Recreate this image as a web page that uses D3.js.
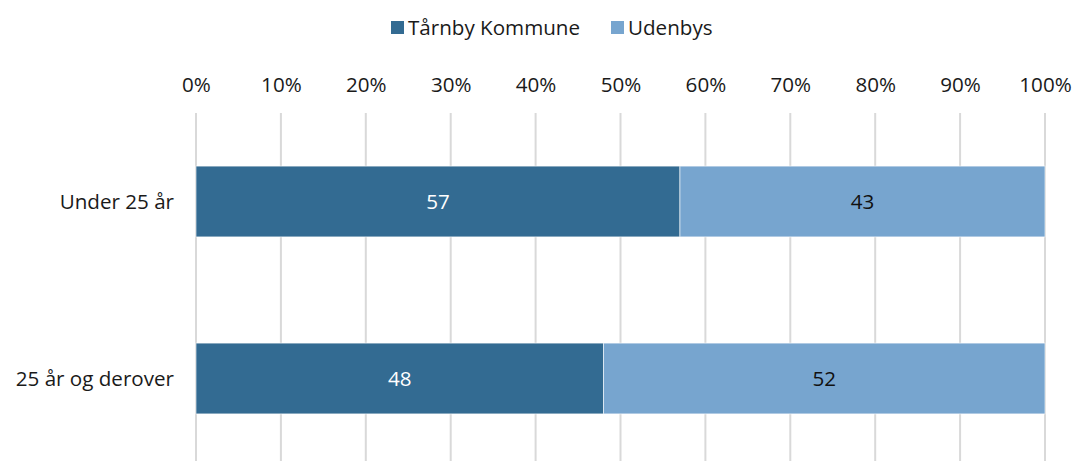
<!DOCTYPE html>
<html>
<head>
<meta charset="utf-8">
<script src="https://cdn.jsdelivr.net/npm/d3@7"></script>
<style>
  body { margin: 0; background: #fff; }
  svg { font-family: "Open Sans", "Noto Sans", sans-serif; }
</style>
</head>
<body>
<div id="chart"></div>
<script>
    // Data
    var categories = ["Under 25 år", "25 år og derover"];
    var seriesNames = ["Tårnby Kommune", "Udenbys"];
    var tarnby = [57, 48];
    var udenbys = [43, 52];
    var tickValues = [0, 10, 20, 30, 40, 50, 60, 70, 80, 90, 100];

    var colors = ["#336b92", "#77a5cf"];
    var labelColors = ["#ffffff", "#111111"];
    var fontSize = 20.6;

    var width = 1073, height = 461;
    var margin = { left: 196, right: 28, top: 113, bottom: -6 };

    var svg = d3.select("#chart").append("svg")
        .attr("width", width)
        .attr("height", height);

    var x = d3.scaleLinear().domain([0, 100]).range([margin.left, width - margin.right]);
    var y = d3.scaleBand().domain(categories)
        .range([margin.top, height - margin.bottom])
        .paddingInner(0.6).paddingOuter(0.3);

    // Gridlines
    svg.append("g").selectAll("line").data(tickValues).enter().append("line")
        .attr("x1", function(d) { return x(d); })
        .attr("x2", function(d) { return x(d); })
        .attr("y1", margin.top)
        .attr("y2", height)
        .attr("stroke", "#d9d9d9")
        .attr("stroke-width", 2);

    // Top axis labels
    var axis = d3.axisTop(x).tickValues(tickValues).tickSize(0).tickPadding(0)
        .tickFormat(function(d) { return d + "%"; });
    var gAxis = svg.append("g").attr("transform", "translate(0,92)").call(axis);
    gAxis.select(".domain").remove();
    gAxis.selectAll("text").attr("font-size", fontSize).attr("fill", "#1a1a1a")
        .attr("font-family", "Open Sans, sans-serif");

    // Stacked series
    var rows = categories.map(function(c, i) {
        return { cat: c, values: [tarnby[i], udenbys[i]] };
    });

    rows.forEach(function(row) {
        var start = 0;
        row.values.forEach(function(v, j) {
            var g = svg.append("g");
            g.append("rect")
                .attr("x", x(start))
                .attr("y", y(row.cat))
                .attr("width", x(start + v) - x(start))
                .attr("height", y.bandwidth())
                .attr("fill", colors[j])
                .attr("stroke", "#ffffff")
                .attr("stroke-opacity", 0.6)
                .attr("stroke-width", 1);
            g.append("text")
                .attr("x", x(start + v / 2))
                .attr("y", y(row.cat) + y.bandwidth() / 2)
                .attr("dy", "0.35em")
                .attr("text-anchor", "middle")
                .attr("font-size", fontSize)
                .attr("fill", labelColors[j])
                .text(v);
            start += v;
        });
    });

    // Category labels
    svg.append("g").selectAll("text").data(categories).enter().append("text")
        .attr("x", 174)
        .attr("y", function(d) { return y(d) + y.bandwidth() / 2; })
        .attr("dy", "0.35em")
        .attr("text-anchor", "end")
        .attr("font-size", fontSize)
        .attr("fill", "#1a1a1a")
        .text(function(d) { return d; });

    // Legend
    var legendX = [391, 611];
    var legend = svg.append("g");
    seriesNames.forEach(function(name, i) {
        legend.append("rect")
            .attr("x", legendX[i]).attr("y", 21)
            .attr("width", 13).attr("height", 13)
            .attr("fill", colors[i]);
        legend.append("text")
            .attr("x", legendX[i] + 17).attr("y", 28)
            .attr("dy", "0.35em")
            .attr("font-size", fontSize)
            .attr("fill", "#1a1a1a")
            .text(name);
    });
</script>
</body>
</html>
